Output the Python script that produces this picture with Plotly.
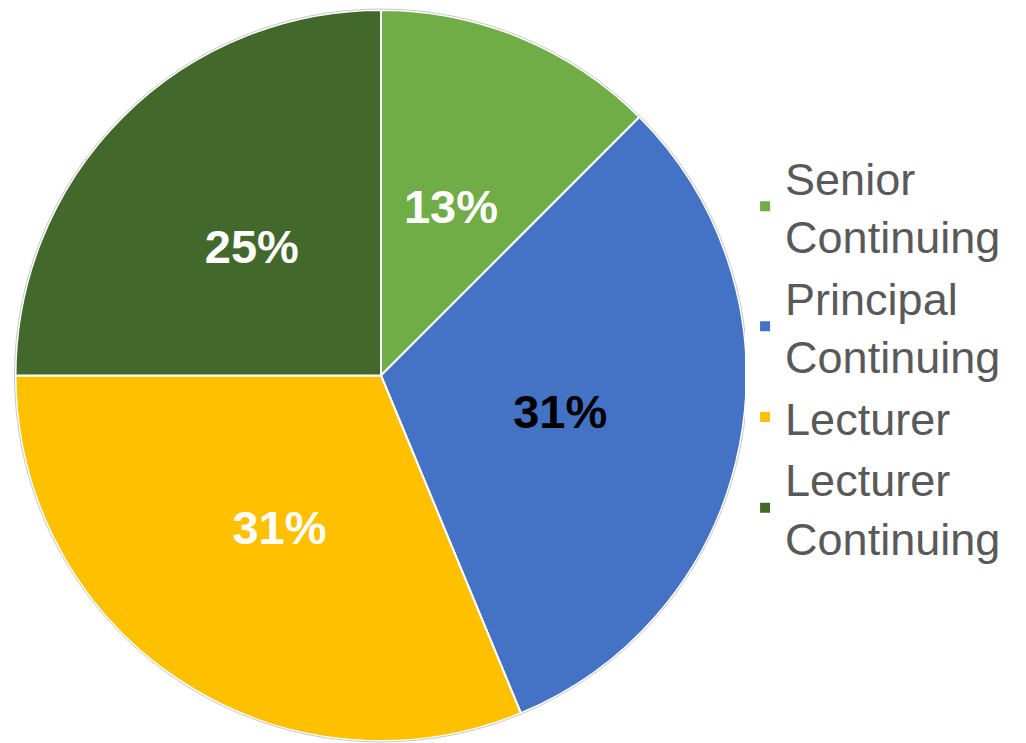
import plotly.graph_objects as go

labels = ["Senior<br>Continuing", "Principal<br>Continuing", "Lecturer", "Lecturer<br>Continuing"]
values = [2, 5, 5, 4]
colors = ["#70AD47", "#4472C4", "#FFC000", "#43682B"]
text_colors = ["white", "black", "white", "white"]

W, H = 1026, 743
# pie geometry in figure pixels (page has an 8px body margin)
cx, cy = 373.0, 367.5          # centre, y measured from top
R = 365.5
HOLE = 0.46
R2 = R / (1 + HOLE)            # label ring radius so labels sit at R/2


def dom(r):
    return dict(x=[(cx - r) / W, (cx + r) / W],
                y=[(H - cy - r) / H, (H - cy + r) / H])


fig = go.Figure()
fig.add_trace(go.Pie(
    labels=labels,
    values=values,
    sort=False,
    direction="clockwise",
    rotation=0,
    marker=dict(colors=colors, line=dict(color="white", width=2)),
    textinfo="none",
    domain=dom(R),
    hoverinfo="label+percent",
))
# thin light-grey outer rim
fig.add_trace(go.Pie(
    labels=["rim"],
    values=[1],
    marker=dict(colors=["rgba(0,0,0,0)"], line=dict(color="#C8C8C8", width=1)),
    textinfo="none",
    domain=dom(R + 1),
    showlegend=False,
    hoverinfo="skip",
))
# transparent ring carrying the percentage labels at half radius
fig.add_trace(go.Pie(
    labels=labels,
    values=values,
    sort=False,
    direction="clockwise",
    rotation=0,
    hole=HOLE,
    marker=dict(colors=["rgba(0,0,0,0)"] * len(values), line=dict(width=0)),
    texttemplate="%{percent:.0%}",
    textposition="inside",
    insidetextorientation="horizontal",
    textfont=dict(family="Liberation Sans, Arial", size=47, color=text_colors, weight="bold"),
    domain=dom(R2),
    showlegend=False,
    hoverinfo="skip",
))

fig.update_layout(
    width=W, height=H,
    margin=dict(l=0, r=0, t=0, b=0),
    paper_bgcolor="white",
    plot_bgcolor="white",
    font=dict(family="Liberation Sans, Arial", color="#595959"),
    legend=dict(
        x=0.7184, xanchor="left", y=0.53, yanchor="middle",
        font=dict(size=45, color="#595959"),
    ),
)

fig.write_html("out.html")
